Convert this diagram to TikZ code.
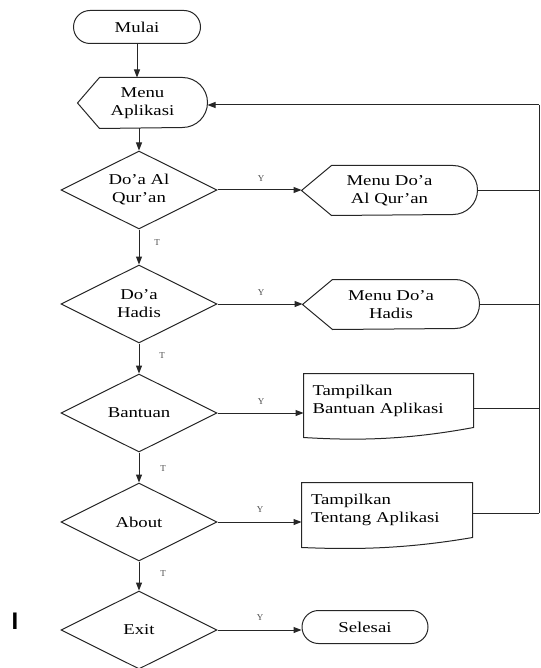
\documentclass[tikz,border=0pt]{standalone}
\usepackage{fontspec}
\setmainfont{Liberation Serif}[FakeStretch=1.25]
\newfontfamily\labelfont{Liberation Serif}
\newfontfamily\barfont{Liberation Sans}
\usetikzlibrary{shapes.geometric,shapes.misc,arrows.meta}
\begin{document}
\begin{tikzpicture}[x=1pt,y=-1pt, line width=1pt,
 ln/.style={draw=black!85},
 arr/.style={ln,-{Triangle[length=8pt,width=6pt]}},
 txt/.style={font=\fontsize{15}{18}\selectfont, align=center},
 term/.style={rounded rectangle, draw=black!85, txt, inner sep=0pt},
 dec/.style={diamond, draw=black!85, txt, inner sep=0pt, aspect=2, minimum width=156pt, minimum height=78pt},
 box/.style={rectangle, draw=none, inner sep=0pt, txt},
 docbox/.style={box, align=left, text width=152pt},
 lbl/.style={font=\labelfont\fontsize{9}{10}\selectfont, text=black!70, inner sep=0pt}]

\useasboundingbox (0,0) rectangle (540,668);

% left column
\node[term, minimum width=127pt, minimum height=33pt] (mulai) at (137,27) {Mulai};
\node[box, minimum width=129pt, minimum height=50pt] (menu) at (142.5,103) {Menu\\Aplikasi};
\draw[ln] (menu.west) -- ([xshift=22pt]menu.north west) -- ([xshift=-25pt]menu.north east)
  arc[start angle=90, end angle=-90, x radius=25pt, y radius=25pt] -- ([xshift=22pt]menu.south west) -- cycle;

\node[dec] (d1) at (139,190) {Do’a Al\\Qur’an};
\node[dec] (d2) at (139,304) {Do’a\\Hadis};
\node[dec] (d3) at (139,413) {Bantuan};
\node[dec] (d4) at (139,522) {About};
\node[dec] (d5) at (139,630) {Exit};

% right column
\node[box, minimum width=175pt, minimum height=49pt] (r1) at (389.5,190.5) {Menu Do’a\\Al Qur’an};
\draw[ln] (r1.west) -- ([xshift=30pt]r1.north west) -- ([xshift=-24.5pt]r1.north east)
  arc[start angle=90, end angle=-90, x radius=24.5pt, y radius=24.5pt] -- ([xshift=30pt]r1.south west) -- cycle;

\node[box, minimum width=176pt, minimum height=49pt] (r2) at (391,304.5) {Menu Do’a\\Hadis};
\draw[ln] (r2.west) -- ([xshift=30pt]r2.north west) -- ([xshift=-24.5pt]r2.north east)
  arc[start angle=90, end angle=-90, x radius=24.5pt, y radius=24.5pt] -- ([xshift=30pt]r2.south west) -- cycle;

\node[docbox, minimum width=169pt, minimum height=54pt] (r3) at (388.5,401) {Tampilkan\\Bantuan Aplikasi};
\draw[ln] (r3.north west) -- (r3.north east) -- ([yshift=1pt]r3.south east)
  .. controls ([xshift=-70pt,yshift=-12pt]r3.south east) and ([xshift=50pt,yshift=-12pt]r3.south west) ..
  ([yshift=-9pt]r3.south west) -- cycle;

\node[docbox, minimum width=170pt, minimum height=54pt] (r4) at (387,510) {Tampilkan\\Tentang Aplikasi};
\draw[ln] (r4.north west) -- (r4.north east) -- (r4.south east)
  .. controls ([xshift=-70pt,yshift=-12pt]r4.south east) and ([xshift=50pt,yshift=-12pt]r4.south west) ..
  ([yshift=-10pt]r4.south west) -- cycle;

\node[term, minimum width=126pt, minimum height=33pt] (sel) at (365,627) {Selesai};

% main flow
\draw[arr] (mulai.south) -- (mulai.south |- menu.north);
\draw[arr] (menu.south -| d1.north) -- (d1.north);
\draw[arr] (d1.south) -- (d2.north);
\draw[arr] (d2.south) -- (d3.north);
\draw[arr] (d3.south) -- (d4.north);
\draw[arr] (d4.south) -- (d5.north);

% yes branches
\draw[arr] (d1.east) -- (d1.east -| r1.west);
\draw[arr] (d2.east) -- (d2.east -| r2.west);
\draw[arr] (d3.east) -- (d3.east -| r3.west);
\draw[arr] (d4.east) -- (d4.east -| r4.west);
\draw[arr] (d5.east) -- (d5.east -| sel.west);

% feedback
\coordinate (ctop) at (539,105);
\coordinate (c3) at (539,408);
\coordinate (c4) at (539,513);
\draw[arr] (ctop) -- (ctop -| menu.east);
\draw[ln] (ctop) -- (c4);
\draw[ln] (r1.east) -- (r1.east -| ctop);
\draw[ln] (r2.east) -- (r2.east -| ctop);
\draw[ln] (c3 -| r3.east) -- (c3);
\draw[ln] (c4 -| r4.east) -- (c4);

% labels
\node[lbl] (y1) at (261,179) {Y};
\node[lbl] (y2) at (261,293) {Y};
\node[lbl] (y3) at (261,402) {Y};
\node[lbl] (y4) at (260,510) {Y};
\node[lbl] (y5) at (260,618) {Y};
\node[lbl] (t1) at (157,243) {T};
\node[lbl] (t2) at (162,356) {T};
\node[lbl] (t3) at (163,469) {T};
\node[lbl] (t4) at (163,574) {T};

\node[font=\barfont\bfseries\fontsize{24}{24}\selectfont, inner sep=0pt] (bar) at (15,621) {I};
\end{tikzpicture}
\end{document}
